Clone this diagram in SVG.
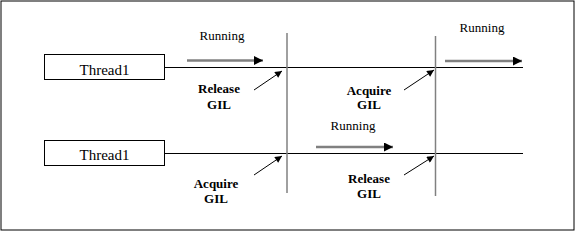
<svg xmlns="http://www.w3.org/2000/svg" width="577" height="233" viewBox="0 0 577 233">
<style>
.lbl{font-family:"Liberation Serif",serif;font-size:13px;fill:#000}
.th{font-size:15px;text-anchor:middle}
.b{font-weight:bold;text-anchor:middle}
.box{fill:#fff;stroke:#000;stroke-width:1}
.tl{stroke:#000;stroke-width:1;fill:none}
.vl{stroke:#808080;stroke-width:1.5;fill:none}
.run{stroke:#808080;stroke-width:2.5;fill:none;marker-end:url(#hd)}
.ptr{stroke:#000;stroke-width:1;fill:none;marker-end:url(#hs)}
</style>
<defs>
<marker id="hd" viewBox="0 0 10 10" refX="10" refY="5" markerWidth="4" markerHeight="3.6" orient="auto" markerUnits="strokeWidth"><path d="M0,0 L10,5 L0,10 z" fill="#000"/></marker>
<marker id="hs" viewBox="0 0 10 10" refX="10" refY="5" markerWidth="9" markerHeight="7" orient="auto" markerUnits="strokeWidth"><path d="M0,0 L10,5 L0,10 z" fill="#000"/></marker>
</defs>
<rect x="1" y="1" width="573" height="229" fill="#fff" stroke="#000" stroke-width="1"/>
<g id="connectors">
<line class="tl" x1="164" y1="67.5" x2="523" y2="67.5"/>
<line class="tl" x1="164" y1="153.5" x2="523" y2="153.5"/>
<line class="vl" x1="287" y1="33" x2="287" y2="193"/>
<line class="vl" x1="435.5" y1="36" x2="435.5" y2="196"/>
<line class="run" x1="187" y1="60.5" x2="263" y2="60.5"/>
<line class="run" x1="445" y1="61" x2="522" y2="61"/>
<line class="run" x1="316" y1="147" x2="393" y2="147"/>
<line class="ptr" x1="254" y1="90" x2="282" y2="71"/>
<line class="ptr" x1="404" y1="90" x2="434" y2="70"/>
<line class="ptr" x1="254" y1="175" x2="282" y2="156"/>
<line class="ptr" x1="404" y1="175" x2="434" y2="156"/>
</g>
<g id="thread1-top">
<rect class="box" x="44.5" y="54.5" width="120" height="25"/>
<text class="lbl th" x="104.5" y="75">Thread1</text>
</g>
<g id="thread1-bottom">
<rect class="box" x="44.5" y="140.5" width="120" height="25"/>
<text class="lbl th" x="104.5" y="160">Thread1</text>
</g>
<g id="running-1"><text class="lbl" x="222" y="40" text-anchor="middle">Running</text></g>
<g id="running-2"><text class="lbl" x="482" y="32" text-anchor="middle">Running</text></g>
<g id="running-3"><text class="lbl" x="353" y="130" text-anchor="middle">Running</text></g>
<g id="release-gil-1"><text class="lbl b" x="219" y="93">Release</text><text class="lbl b" x="219" y="109">GIL</text></g>
<g id="acquire-gil-1"><text class="lbl b" x="369" y="95">Acquire</text><text class="lbl b" x="369" y="109">GIL</text></g>
<g id="acquire-gil-2"><text class="lbl b" x="216" y="188">Acquire</text><text class="lbl b" x="216" y="203">GIL</text></g>
<g id="release-gil-2"><text class="lbl b" x="369" y="183">Release</text><text class="lbl b" x="369" y="198">GIL</text></g>
</svg>
